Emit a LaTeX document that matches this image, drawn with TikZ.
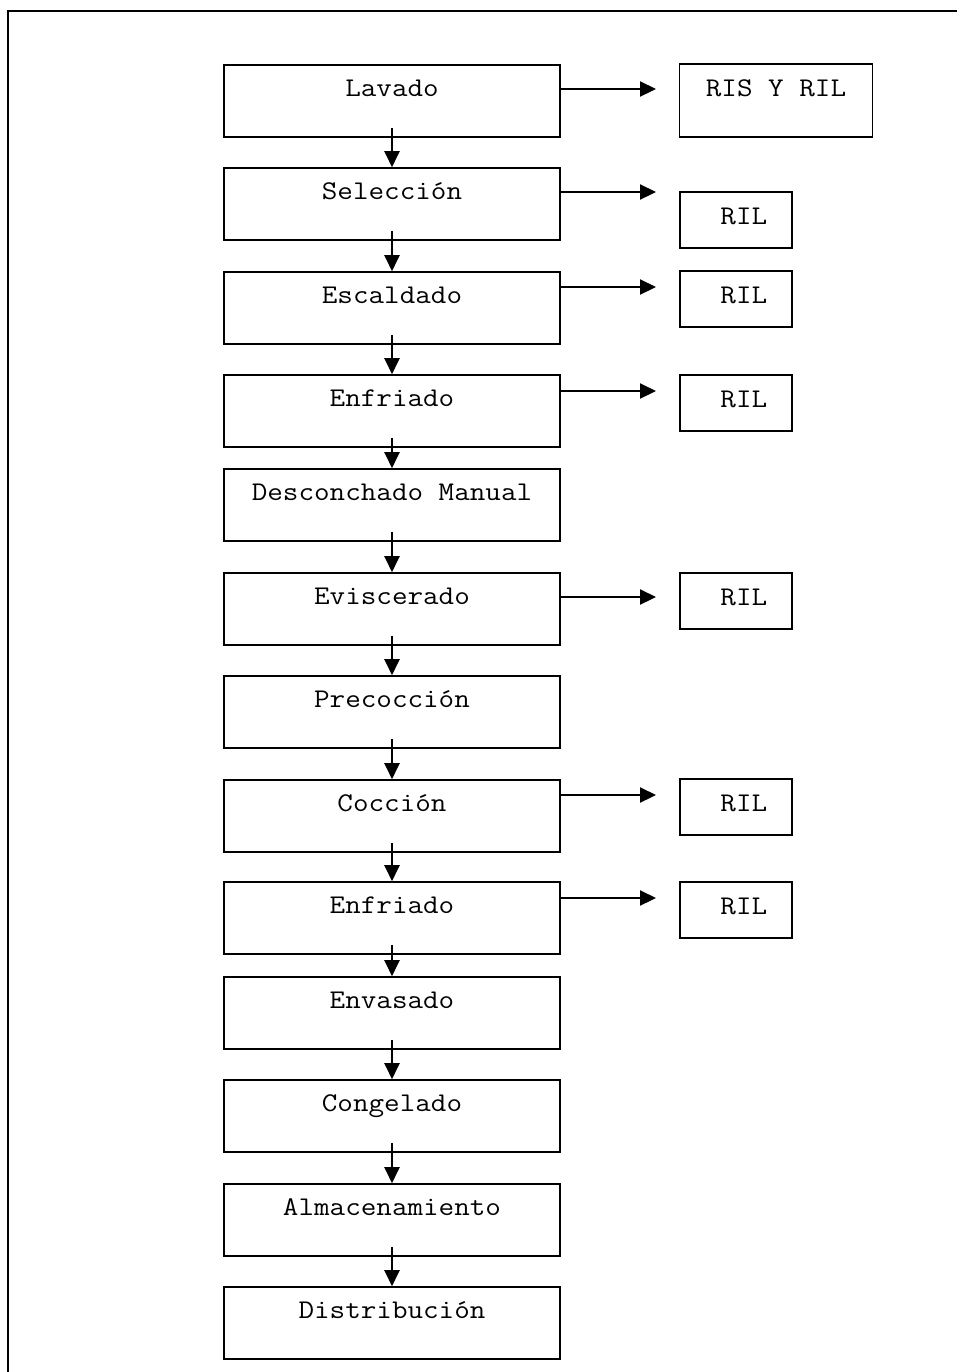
\documentclass[tikz,border=0pt]{standalone}
\usepackage{fontspec}
\setmonofont{Latin Modern Mono}[FakeStretch=1.12]
\usetikzlibrary{positioning, calc, arrows.meta}

\tikzset{
    paso/.style={draw, line width=0.8pt, minimum width=168pt, inner sep=0pt,
        text height=15.5pt, text depth=20.5pt, align=center},
    resid/.style={draw, line width=0.8pt, minimum width=56pt, inner sep=0pt,
        text height=16pt, text depth=12pt, align=center},
    flecha/.style={line width=1.1pt, -{Triangle[length=8pt, width=7.5pt]}}
}

\begin{document}
\begin{tikzpicture}[x=0.5pt, y=-0.5pt, font=\ttfamily\fontsize{13.5}{16}\selectfont]
    \useasboundingbox (0,0) rectangle (957,1372);
    \draw[line width=1pt] (8,11) rectangle (980,1400);

    % etapas del proceso
    \node[paso] (lav) at (392,101) {Lavado};
    \node[paso] (sel) at (392,204) {Selección};
    \node[paso] (esc) at (392,308) {Escaldado};
    \node[paso] (enf) at (392,411) {Enfriado};
    \node[paso] (des) at (392,505) {Desconchado Manual};
    \node[paso] (evi) at (392,609) {Eviscerado};
    \node[paso] (pre) at (392,712) {Precocción};
    \node[paso] (coc) at (392,816) {Cocción};
    \node[paso] (enfb) at (392,918) {Enfriado};
    \node[paso] (env) at (392,1013) {Envasado};
    \node[paso] (con) at (392,1116) {Congelado};
    \node[paso] (alm) at (392,1220) {Almacenamiento};
    \node[paso] (dis) at (392,1323) {Distribución};

    % residuos
    \node[resid, minimum width=96.5pt, text depth=20.5pt] (rlav) at (776,100.5) {RIS Y RIL};
    \node[resid] (rsel) at (736,220) {\ RIL};
    \node[resid] (resc) at (736,299) {\ RIL};
    \node[resid] (renf) at (736,403) {\ RIL};
    \node[resid] (revi) at (736,601) {\ RIL};
    \node[resid] (rcoc) at (736,807) {\ RIL};
    \node[resid] (renfb) at (736,910) {\ RIL};

    % flujo principal
    \foreach \a/\b in {lav/sel, sel/esc, esc/enf, enf/des, des/evi, evi/pre,
                       pre/coc, coc/enfb, enfb/env, env/con, con/alm, alm/dis}
        \draw[flecha] ([yshift=5pt]\a.south) -- (\b.north);

    % salidas de residuos
    \coordinate (olav) at (656,89);
    \coordinate (osel) at (656,192);
    \coordinate (oesc) at (656,287);
    \coordinate (oenf) at (656,391);
    \coordinate (oevi) at (656,597);
    \coordinate (ococ) at (656,795);
    \coordinate (oenfb) at (656,898);
    \draw[flecha] (lav.east |- olav) -- (olav);
    \draw[flecha] (sel.east |- osel) -- (osel);
    \draw[flecha] (esc.east |- oesc) -- (oesc);
    \draw[flecha] (enf.east |- oenf) -- (oenf);
    \draw[flecha] (evi.east |- oevi) -- (oevi);
    \draw[flecha] (coc.east |- ococ) -- (ococ);
    \draw[flecha] (enfb.east |- oenfb) -- (oenfb);
\end{tikzpicture}
\end{document}
